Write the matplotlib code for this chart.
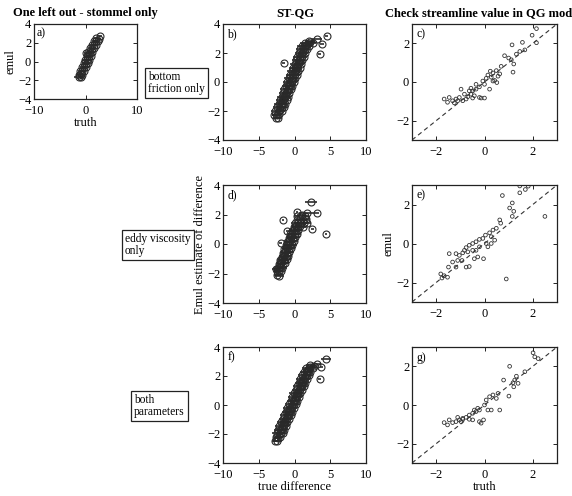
import matplotlib
matplotlib.use('Agg')
import matplotlib.pyplot as plt

# panel a: one left out, stommel only
a_x = [-1.3, -0.9, -1.3, -0.9, -0.6, -1.0, -0.6, -0.3, -0.6, -0.3, 0.1, -0.3, 0.1, 0.4,
       -0.1, 0.3, 0.7, 0.2, 0.6, 1.0, 0.5, 0.9, 1.3, 0.9, 1.3, 1.7, 1.2, 1.6, 2.0,
       1.6, 2.0, 2.4, 2.1, 2.6, 2.9, 0.0]
a_y = [-1.7, -1.65, -1.4, -1.35, -1.4, -1.0, -1.05, -1.0, -0.6, -0.55, -0.6, -0.2, -0.25, -0.2,
       0.2, 0.15, 0.2, 0.6, 0.55, 0.6, 1.0, 0.95, 1.0, 1.4, 1.35, 1.4, 1.8, 1.75, 1.8,
       2.2, 2.15, 2.2, 2.5, 2.45, 2.7, 0.9]
a_err = [1.0, 0.4, 0.5, 0.4, 0.5, 0.4, 0.5, 0.4, 0.5, 0.4, 0.5, 0.4, 0.5, 0.4,
         0.5, 0.4, 0.5, 0.4, 0.5, 0.4, 0.5, 0.4, 0.5, 0.4, 0.5, 0.4, 0.5, 0.4, 0.5,
         0.4, 0.5, 0.4, 0.5, 0.4, 0.3, 0.2]

# panel b: ST-QG, bottom friction only
b_x = [-2.6, -2.3, -2.8, -2.5, -2.1, -2.7, -2.3, -2.0, -1.7, -2.4, -2.1, -1.8, -1.5,
       -2.2, -1.9, -1.6, -1.3, -2.0, -1.7, -1.4, -1.1, -1.8, -1.5, -1.2, -0.9,
       -1.6, -1.3, -1.0, -0.7, -1.4, -1.1, -0.8, -0.5, -1.2, -0.9, -0.6, -0.3,
       -1.0, -0.7, -0.4, -0.1, -0.8, -0.5, -0.2, 0.1, -0.6, -0.3, 0.0, 0.3,
       -0.4, -0.1, 0.2, 0.5, -0.2, 0.1, 0.4, 0.7, 0.0, 0.3, 0.6, 0.9,
       0.2, 0.5, 0.8, 1.1, 0.4, 0.7, 1.0, 1.3, 0.6, 0.9, 1.2, 1.5,
       0.8, 1.1, 1.4, 1.7, 1.0, 1.3, 1.6, 2.0, 1.4, 1.8, 2.2, 2.6, 2.0, 3.1,
       -1.5, 4.5, 3.8, 3.5, -1.6]
b_y = [-2.45, -2.5, -2.25, -2.3, -2.2, -2.0, -2.05, -1.95, -2.0, -1.75, -1.8, -1.7, -1.75,
       -1.5, -1.55, -1.45, -1.5, -1.25, -1.3, -1.2, -1.25, -1.0, -1.05, -0.95, -1.0,
       -0.75, -0.8, -0.7, -0.75, -0.5, -0.55, -0.45, -0.5, -0.25, -0.3, -0.2, -0.25,
       0.0, -0.05, 0.05, 0.0, 0.25, 0.2, 0.3, 0.25, 0.5, 0.45, 0.55, 0.5,
       0.75, 0.7, 0.8, 0.75, 1.0, 0.95, 1.05, 1.0, 1.25, 1.2, 1.3, 1.25,
       1.5, 1.45, 1.55, 1.5, 1.75, 1.7, 1.8, 1.75, 2.0, 1.95, 2.05, 2.0,
       2.25, 2.2, 2.3, 2.25, 2.5, 2.45, 2.55, 2.5, 2.7, 2.65, 2.75, 2.7, 2.85, 3.0,
       1.33, 3.2, 2.65, 1.95, -1.2]
b_err = [0.4, 0.6] * 43 + [0.7, 0.2, 0.2, 0.3, 0.2, 0.2]

# panel d: ST-QG, eddy viscosity only
d_x = [-2.4, -2.1, -2.5, -2.2, -1.9, -2.3, -2.0, -1.7, -2.2, -1.9, -1.6, -1.3,
       -2.0, -1.7, -1.4, -1.1, -1.8, -1.5, -1.2, -0.9, -1.6, -1.3, -1.0, -0.7,
       -1.4, -1.1, -0.8, -0.5, -1.2, -0.9, -0.6, -0.3, -1.0, -0.7, -0.4, -0.1,
       -0.8, -0.5, -0.2, 0.1, -0.6, -0.3, 0.0, 0.3, -0.4, -0.1, 0.2, 0.5,
       -0.1, 0.2, 0.5, 0.8, 1.2, 0.1, 0.5, 0.9, 1.3, 1.7, 0.4, 0.8, 1.2, 1.6,
       0.3, 1.0, 1.5,
       0.34, 3.2, 2.3, -1.6, -1.0, -1.9, 4.4, 2.5, 1.8, -2.6]
d_y = [-2.1, -2.15, -1.85, -1.8, -1.85, -1.6, -1.55, -1.6, -1.35, -1.3, -1.35, -1.3,
       -1.1, -1.05, -1.1, -1.05, -0.85, -0.8, -0.85, -0.8, -0.6, -0.55, -0.6, -0.55,
       -0.35, -0.3, -0.35, -0.3, -0.1, -0.05, -0.1, -0.05, 0.15, 0.2, 0.15, 0.2,
       0.4, 0.45, 0.4, 0.45, 0.65, 0.7, 0.65, 0.7, 0.9, 0.95, 0.9, 0.95,
       1.15, 1.2, 1.15, 1.2, 1.15, 1.4, 1.45, 1.4, 1.45, 1.4, 1.65, 1.7, 1.65, 1.7,
       1.9, 1.95, 1.9,
       2.16, 2.1, 2.84, 1.6, 0.86, 0.1, 0.68, 1.0, 2.1, -1.7]
d_err = [0.4, 0.6] * 32 + [0.5,
         0.2, 0.2, 0.8, 0.2, 0.2, 0.2, 0.1, 0.2, 1.2, 0.6]

# panel f: ST-QG, both parameters
f_x = [-2.7, -2.4, -2.6, -2.3, -2.0, -2.5, -2.2, -1.9, -1.6, -2.3, -2.0, -1.7, -1.4,
       -2.1, -1.8, -1.5, -1.2, -1.9, -1.6, -1.3, -1.0, -1.6, -1.3, -1.0, -0.7,
       -1.4, -1.1, -0.8, -0.5, -1.2, -0.9, -0.6, -0.3, -1.0, -0.7, -0.4, -0.1,
       -0.7, -0.4, -0.1, 0.2, -0.5, -0.2, 0.1, 0.4, -0.3, 0.0, 0.3, 0.6,
       -0.1, 0.2, 0.5, 0.8, 0.2, 0.5, 0.8, 1.1, 0.4, 0.7, 1.0, 1.3,
       0.6, 0.9, 1.2, 1.5, 0.8, 1.1, 1.4, 1.7, 1.1, 1.4, 1.7, 2.0,
       1.3, 1.6, 1.9, 2.2, 1.6, 1.9, 2.2, 2.6, 2.2, 2.7,
       3.75, 4.4, 3.5, 3.2]
f_y = [-2.45, -2.5, -2.2, -2.25, -2.2, -1.95, -2.0, -1.9, -1.95, -1.7, -1.75, -1.65, -1.7,
       -1.45, -1.5, -1.4, -1.45, -1.2, -1.25, -1.15, -1.2, -0.95, -1.0, -0.9, -0.95,
       -0.7, -0.75, -0.65, -0.7, -0.45, -0.5, -0.4, -0.45, -0.2, -0.25, -0.15, -0.2,
       0.05, 0.0, 0.1, 0.05, 0.3, 0.25, 0.35, 0.3, 0.55, 0.5, 0.6, 0.55,
       0.8, 0.75, 0.85, 0.8, 1.05, 1.0, 1.1, 1.05, 1.3, 1.25, 1.35, 1.3,
       1.55, 1.5, 1.6, 1.55, 1.8, 1.75, 1.85, 1.8, 2.05, 2.0, 2.1, 2.05,
       2.3, 2.25, 2.35, 2.3, 2.55, 2.5, 2.6, 2.55, 2.75, 2.7,
       2.63, 3.2, 1.76, 2.85]
f_err = [0.4, 0.6] * 41 + [0.5, 0.2, 0.7, 0.2, 0.5]

# panel c: QG check, bottom friction only
c_x = [2.15, 1.97, 2.15, 1.57, 1.14, 1.67, 1.46, 1.32, 0.83, 1.0, 1.11, 1.21, 1.18, 0.69,
       0.49, 0.35, 0.14, 0.28, 0.56, 0.42, 0.51, 0.07, -0.07, 0.0, 0.21, -0.21, -0.35, -0.49,
       -0.56, -0.42, -0.63, -0.69, -0.83, -1.04, -1.18, -1.32, -1.53, -1.67, -1.46, -0.97,
       -0.9, -0.76, -0.49, -0.14, 0.0, -0.21, -0.56, -1.11, -1.25, -0.35, 0.35, 0.24, 0.63]
c_y = [2.76, 2.42, 2.03, 2.05, 1.92, 1.66, 1.58, 1.44, 1.36, 1.24, 1.15, 0.93, 0.51, 0.81,
       0.59, 0.47, 0.36, 0.25, 0.3, 0.08, -0.03, 0.19, 0.05, -0.12, -0.37, -0.25, -0.37, -0.46,
       -0.63, -0.71, -0.46, -0.76, -0.63, -0.8, -0.88, -0.97, -1.05, -0.88, -0.8, -0.37,
       -0.97, -0.88, -0.83, -0.83, -0.83, -0.8, -0.32, -0.97, -1.08, -0.12, 0.05, 0.56, 0.42]

# panel e: QG check, eddy viscosity only
e_x = [1.46, 1.46, 1.69, 1.81, 0.74, 2.5, 1.15, 1.04, 1.21, 1.15, 0.63, 0.67, 0.49, 0.35,
       0.21, 0.04, 0.28, 0.42, -0.07, -0.21, -0.35, -0.49, -0.63, -0.76, -0.83, -0.69, -0.9,
       -1.04, -1.18, -1.46, -1.32, -1.11, -1.18, -1.49, -1.81, -1.67, -1.53, -1.76, -0.76,
       -0.63, -0.42, -0.28, -0.04, -0.35, 0.9, -0.49, -0.21, 0.07, 0.28, 0.14, -0.93]
e_y = [2.95, 2.6, 2.77, 2.94, 2.46, 1.39, 2.08, 1.82, 1.65, 1.39, 1.21, 1.04, 0.78, 0.69,
       0.55, 0.43, 0.35, 0.17, 0.26, 0.21, 0.09, 0.0, -0.09, -0.21, -0.35, -0.43, -0.48,
       -0.61, -0.52, -0.52, -0.95, -0.87, -1.21, -1.21, -1.56, -1.65, -1.73, -1.77, -1.21,
       -1.18, -0.78, -0.69, -0.78, -0.35, -1.82, -0.35, -0.17, 0.0, 0.0, -0.17, -0.87]

# panel g: QG check, both parameters
g_x = [2.01, 2.08, 2.22, 1.04, 1.67, 1.32, 1.25, 1.18, 1.39, 1.21, 0.79, 1.01, 0.56, 0.35,
       0.21, 0.07, 0.49, 0.63, 0.28, 0.14, 0.0, -0.21, -0.35, -0.49, -0.63, -0.76, -0.9,
       -1.04, -1.18, -1.32, -1.53, -1.67, -1.46, -0.49, -0.63, -0.9, -0.21, -0.04, -0.14,
       -0.42, -0.28, -1.11, -0.97]
g_y = [2.7, 2.49, 2.4, 2.0, 1.72, 1.49, 1.29, 1.15, 1.12, 0.94, 1.29, 0.46, 0.6, 0.52,
       0.43, 0.26, 0.34, -0.26, -0.26, -0.26, 0.0, -0.26, -0.34, -0.43, -0.52, -0.64, -0.69,
       -0.77, -0.86, -0.91, -1.03, -0.91, -0.77, -0.77, -0.74, -0.74, -0.86, -0.77, -0.94,
       -0.26, -0.17, -0.64, -0.86]

plt.rcParams['font.family'] = ['Liberation Serif', 'DejaVu Serif']
plt.rcParams['font.size'] = 9

W, H = 572, 496
fig = plt.figure(figsize=(W / 100, H / 100), dpi=100)


def rect(l, t, r, b):
    return [l / W, 1 - b / H, (r - l) / W, (b - t) / H]


def style(ax, label):
    ax.tick_params(direction='in', top=True, right=True, length=3, width=0.6,
                   labelsize=9)
    ax.tick_params(axis='x', pad=4.5)
    ax.tick_params(axis='y', pad=2)
    for s in ax.spines.values():
        s.set_linewidth(0.9)
        s.set_color('#222222')
    ax.text(0.03, 0.96, label, transform=ax.transAxes, va='top', ha='left', fontsize=8.5)


def err_panel(pos, x, y, xerr, label):
    ax = fig.add_axes(rect(*pos))
    ax.errorbar(x, y, xerr=xerr, fmt='o', ms=5, mfc='none', mec='#2a2a2a', mew=0.8,
                ecolor='#1a1a1a', elinewidth=1.1, capsize=0)
    ax.set_xlim(-10, 10)
    ax.set_ylim(-4, 4)
    ax.set_xticks([-10, -5, 0, 5, 10])
    ax.set_yticks([-4, -2, 0, 2, 4])
    style(ax, label)
    return ax


def cmp_panel(pos, x, y, label):
    ax = fig.add_axes(rect(*pos))
    ax.plot([-3, 3], [-3, 3], color='#333333', lw=0.8, dashes=(4, 3))
    ax.scatter(x, y, s=7, facecolors='none', edgecolors='#333333', linewidths=0.6)
    ax.set_xlim(-3, 3)
    ax.set_ylim(-3, 3)
    ax.set_xticks([-2, 0, 2])
    ax.set_yticks([-2, 0, 2])
    style(ax, label)
    return ax


ax_a = err_panel((34, 24, 137, 99), a_x, a_y, a_err, 'a)')
ax_a.set_xticks([-10, 0, 10])
ax_a.set_xlabel('truth', fontsize=9, labelpad=0)
ax_a.set_ylabel('emul', fontsize=9, labelpad=1)

ax_b = err_panel((223, 24, 366, 140), b_x, b_y, b_err, 'b)')
ax_d = err_panel((223, 185, 366, 303), d_x, d_y, d_err, 'd)')
ax_d.set_ylabel('Emul estimate of difference', fontsize=9, labelpad=1)
ax_f = err_panel((223, 347, 366, 463), f_x, f_y, f_err, 'f)')
ax_f.set_xlabel('true difference', fontsize=9, labelpad=0)

ax_c = cmp_panel((412, 24, 557, 140), c_x, c_y, 'c)')
ax_e = cmp_panel((412, 185, 557, 302), e_x, e_y, 'e)')
ax_e.set_ylabel('emul', fontsize=9, labelpad=1)
ax_g = cmp_panel((412, 347, 557, 463), g_x, g_y, 'g)')
ax_g.set_xlabel('truth', fontsize=9, labelpad=0)

# column titles
fig.text(85 / W, 1 - 13 / H, 'One left out - stommel only', ha='center', va='center',
         fontsize=9, fontweight='bold')
fig.text(295 / W, 1 - 13 / H, 'ST-QG', ha='center', va='center', fontsize=9,
         fontweight='bold')
fig.text(385 / W, 1 - 13 / H, 'Check streamline value in QG mod', ha='left', va='center',
         fontsize=9, fontweight='bold')

# row labels
boxprops = dict(boxstyle='square,pad=0.25', fc='white', ec='#222222', lw=0.9)
fig.text(148 / W, 1 - 83 / H, 'bottom\nfriction only', ha='left', va='center', fontsize=8.3,
         bbox=boxprops, linespacing=1.1)
fig.text(125 / W, 1 - 245 / H, 'eddy viscosity\nonly', ha='left', va='center', fontsize=8.3,
         bbox=boxprops, linespacing=1.1)
fig.text(134 / W, 1 - 406 / H, 'both\nparameters', ha='left', va='center', fontsize=8.3,
         bbox=boxprops, linespacing=1.1)

fig.savefig('out.png', dpi=100)
